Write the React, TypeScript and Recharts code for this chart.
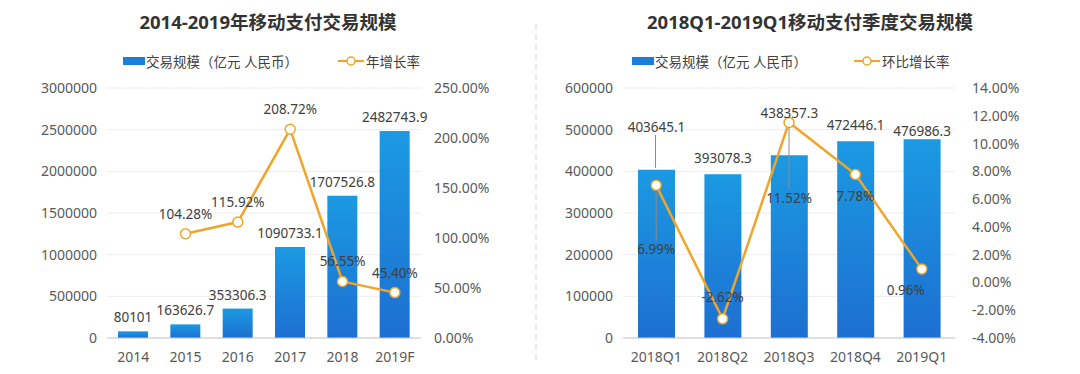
import {
  ComposedChart,
  Bar,
  Line,
  XAxis,
  YAxis,
  CartesianGrid,
  LabelList,
} from 'recharts';

const years = ['2014', '2015', '2016', '2017', '2018', '2019F'];
const yearVolume = [80101, 163626.7, 353306.3, 1090733.1, 1707526.8, 2482743.9];
const yearGrowth: (number | null)[] = [null, 104.28, 115.92, 208.72, 56.55, 45.4];
const yearLeftTicks = [0, 500000, 1000000, 1500000, 2000000, 2500000, 3000000];
const yearRightTicks = [0, 50, 100, 150, 200, 250];

const quarters = ['2018Q1', '2018Q2', '2018Q3', '2018Q4', '2019Q1'];
const quarterVolume = [403645.1, 393078.3, 438357.3, 472446.1, 476986.3];
const quarterGrowth = [6.99, -2.62, 11.52, 7.78, 0.96];
const quarterLeftTicks = [0, 100000, 200000, 300000, 400000, 500000, 600000];
const quarterRightTicks = [-4, -2, 0, 2, 4, 6, 8, 10, 12, 14];

const yearData = years.map((name, i) => ({ name, volume: yearVolume[i], growth: yearGrowth[i] }));
const quarterData = quarters.map((name, i) => ({ name, volume: quarterVolume[i], growth: quarterGrowth[i] }));

// label placement for the quarterly chart (px offsets from the mark)
const qBarLabelDy = [-43, -16, -42, -16, -8];
const qLineLabelDx = [0, 0, 0, 0, -16];
const qLineLabelDy = [64, -22, 76, 22, 21];

const FONT = '"Noto Sans", "Noto Sans CJK SC", sans-serif';
const BAR_TOP = '#1b9ae2';
const BAR_BOTTOM = '#1d6fd1';
const LINE = '#f0a52a';
const TICK = { fill: '#595959', fontSize: 14, fontFamily: FONT };
const LABEL_FILL = '#404040';

const pct = (v: number) => `${v.toFixed(2)}%`;

function Legend({ left, lineName, gap }: { left: number; lineName: string; gap: number }) {
  return (
    <div
      style={{
        position: 'absolute',
        top: 51,
        left,
        display: 'flex',
        alignItems: 'center',
        fontSize: 13.5,
        color: '#404040',
        fontFamily: FONT,
        whiteSpace: 'nowrap',
      }}
    >
      <span style={{ width: 22, height: 8, background: '#1a7fd8', display: 'inline-block', marginRight: 1 }} />
      <span>交易规模（亿元 人民币）</span>
      <svg width={26} height={12} style={{ marginLeft: gap, marginRight: 2 }}>
        <line x1={0} y1={6} x2={26} y2={6} stroke={LINE} strokeWidth={2} />
        <circle cx={13} cy={6} r={4} fill="#fff" stroke={LINE} strokeWidth={1.5} />
      </svg>
      <span>{lineName}</span>
    </div>
  );
}

const QuarterBarLabel = (props: any) => {
  const { x, y, width, index, value } = props;
  const cx = x + width / 2;
  const ty = y + qBarLabelDy[index];
  return (
    <g>
      {index === 0 && <line x1={cx - 1} y1={ty + 8} x2={cx - 1} y2={y - 2} stroke="#8c8c8c" strokeWidth={1} />}
      <text x={cx} y={ty} textAnchor="middle" dominantBaseline="central" fill={LABEL_FILL} fontSize={13.5} fontFamily={FONT}>
        {value}
      </text>
    </g>
  );
};

const QuarterLineLabel = (props: any) => {
  const { x, y, index, value } = props;
  const tx = x + qLineLabelDx[index];
  const ty = y + qLineLabelDy[index];
  const far = qLineLabelDy[index] > 40;
  return (
    <g>
      {far && <line x1={x} y1={y + 5} x2={tx} y2={ty - 9} stroke="#8c8c8c" strokeWidth={1} />}
      <text x={tx} y={ty} textAnchor="middle" dominantBaseline="central" fill={LABEL_FILL} fontSize={13.5} fontFamily={FONT}>
        {pct(value)}
      </text>
    </g>
  );
};

const YearLineLabel = (props: any) => {
  const { x, y, value } = props;
  if (value == null) return null;
  return (
    <text x={x} y={y - 20} textAnchor="middle" dominantBaseline="central" fill={LABEL_FILL} fontSize={13.5} fontFamily={FONT}>
      {pct(value)}
    </text>
  );
};

const YearBarLabel = (props: any) => {
  const { x, y, width, value } = props;
  return (
    <text x={x + width / 2} y={y - 14} textAnchor="middle" dominantBaseline="central" fill={LABEL_FILL} fontSize={13.5} fontFamily={FONT}>
      {value}
    </text>
  );
};

const titleStyle = (left: number, width: number): React.CSSProperties => ({
  position: 'absolute',
  top: 8,
  left,
  width,
  textAlign: 'center',
  fontSize: 18.5,
  fontWeight: 700,
  color: '#333',
  fontFamily: FONT,
});

export default function App() {
  return (
    <div style={{ position: 'fixed', left: 0, top: 0, width: 1080, height: 374, background: '#fff', overflow: 'hidden' }}>
      <div style={titleStyle(0, 536)}>2014-2019年移动支付交易规模</div>
      <div style={titleStyle(540, 540)}>2018Q1-2019Q1移动支付季度交易规模</div>
      <Legend left={123} lineName="年增长率" gap={40} />
      <Legend left={632} lineName="环比增长率" gap={47} />

      <svg width={4} height={374} style={{ position: 'absolute', left: 534, top: 0 }}>
        <line x1={2} y1={24} x2={2} y2={362} stroke="#d6d6d6" strokeWidth={1} strokeDasharray="6 4" />
      </svg>

      <div style={{ position: 'absolute', left: 0, top: 0 }}>
        <ComposedChart width={540} height={374} data={yearData} margin={{ top: 88, right: 0, bottom: 0, left: 0 }}>
          <defs>
            <linearGradient id="gradYear" x1="0" y1="0" x2="0" y2="1">
              <stop offset="0%" stopColor={BAR_TOP} />
              <stop offset="100%" stopColor={BAR_BOTTOM} />
            </linearGradient>
          </defs>
          <CartesianGrid vertical={false} stroke="#ededed" yAxisId="left" />
          <XAxis
            dataKey="name"
            height={36}
            tick={TICK}
            tickLine={false}
            axisLine={{ stroke: '#c8c8c8' }}
            tickMargin={8}
          />
          <YAxis
            yAxisId="left"
            width={107}
            domain={[0, 3000000]}
            ticks={yearLeftTicks}
            tick={TICK}
            tickLine={false}
            axisLine={false}
            tickSize={0}
            tickMargin={10}
            interval={0}
          />
          <YAxis
            yAxisId="right"
            orientation="right"
            width={119}
            domain={[0, 250]}
            ticks={yearRightTicks}
            tickFormatter={pct}
            tick={{ ...TICK, textAnchor: 'start' }}
            tickLine={false}
            axisLine={false}
            tickSize={0}
            tickMargin={13}
            interval={0}
          />
          <Bar yAxisId="left" dataKey="volume" fill="url(#gradYear)" barSize={30} isAnimationActive={false}>
            <LabelList dataKey="volume" content={YearBarLabel} />
          </Bar>
          <Line
            yAxisId="right"
            dataKey="growth"
            stroke={LINE}
            strokeWidth={2.5}
            dot={{ r: 5, fill: '#fff', stroke: LINE, strokeWidth: 1.5 }}
            connectNulls={false}
            isAnimationActive={false}
          >
            <LabelList dataKey="growth" content={YearLineLabel} />
          </Line>
        </ComposedChart>
      </div>

      <div style={{ position: 'absolute', left: 540, top: 0 }}>
        <ComposedChart width={540} height={374} data={quarterData} margin={{ top: 88, right: 0, bottom: 0, left: 0 }}>
          <defs>
            <linearGradient id="gradQuarter" x1="0" y1="0" x2="0" y2="1">
              <stop offset="0%" stopColor={BAR_TOP} />
              <stop offset="100%" stopColor={BAR_BOTTOM} />
            </linearGradient>
          </defs>
          <CartesianGrid vertical={false} stroke="#ededed" yAxisId="left" />
          <XAxis
            dataKey="name"
            height={36}
            tick={TICK}
            tickLine={false}
            axisLine={{ stroke: '#c8c8c8' }}
            tickMargin={8}
          />
          <YAxis
            yAxisId="left"
            width={83}
            domain={[0, 600000]}
            ticks={quarterLeftTicks}
            tick={TICK}
            tickLine={false}
            axisLine={false}
            tickSize={0}
            tickMargin={10}
            interval={0}
          />
          <YAxis
            yAxisId="right"
            orientation="right"
            width={125}
            domain={[-4, 14]}
            ticks={quarterRightTicks}
            tickFormatter={pct}
            tick={{ ...TICK, textAnchor: 'start' }}
            tickLine={false}
            axisLine={false}
            tickSize={0}
            tickMargin={17}
            interval={0}
          />
          <Bar yAxisId="left" dataKey="volume" fill="url(#gradQuarter)" barSize={37} isAnimationActive={false}>
            <LabelList dataKey="volume" content={QuarterBarLabel} />
          </Bar>
          <Line
            yAxisId="right"
            dataKey="growth"
            stroke={LINE}
            strokeWidth={2.5}
            dot={{ r: 5, fill: '#fff', stroke: LINE, strokeWidth: 1.5 }}
            isAnimationActive={false}
          >
            <LabelList dataKey="growth" content={QuarterLineLabel} />
          </Line>
        </ComposedChart>
      </div>
    </div>
  );
}
